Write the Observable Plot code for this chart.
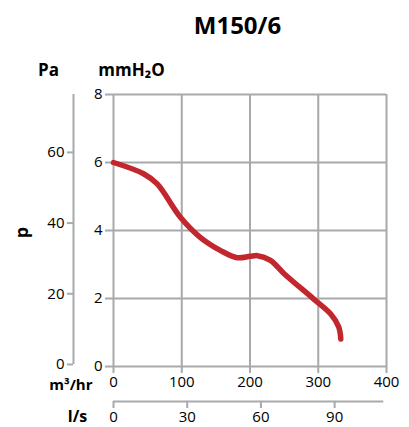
<!DOCTYPE html>
<html>
<head>
<meta charset="utf-8">
<script src="https://cdn.jsdelivr.net/npm/d3@7"></script>
<script src="https://cdn.jsdelivr.net/npm/@observablehq/plot@0.6"></script>
<style>
  html, body { margin: 0; padding: 0; background: #fff; }
  svg { display: block; }
</style>
</head>
<body>
<div id="chart"></div>
<script>
// Flow (m³/hr) and static pressure (mmH2O)
const flow = [0, 44, 64, 98, 127, 157, 181, 200, 211, 230, 250, 293, 318, 330, 333];
const pressure = [6.0, 5.67, 5.37, 4.39, 3.80, 3.41, 3.20, 3.24, 3.26, 3.12, 2.73, 1.99, 1.55, 1.16, 0.81];

const flowTicks = [0, 100, 200, 300, 400];       // m³/hr
const mmTicks = [0, 2, 4, 6, 8];                 // mmH2O
const paTicks = [0, 20, 40, 60];                 // Pa
const lsTicks = [0, 30, 60, 90];                 // l/s
const lsMax = 110;
const title = "M150/6";

const PA_PER_MM = 9.62;   // Pa scale as drawn
const PA_OFFSET = 0.06;   // mm offset of the Pa axis zero
const paToMm = p => p / PA_PER_MM + PA_OFFSET;
const LS_TO_M3H = 3.6;

const data = flow.map((f, i) => ({flow: f, p: pressure[i]}));

const grid = "#a7a9ac";
const red = "#c1272d";
const font = "Open Sans";

const lbl = {textAnchor: "middle", lineAnchor: "middle", fontWeight: "bold"};

const chart = Plot.plot({
  width: 409,
  height: 427,
  marginLeft: 113,
  marginRight: 23,
  marginTop: 94,
  marginBottom: 61,
  style: {fontFamily: font, fontSize: "14px", color: "black", background: "white", overflow: "visible"},
  x: {domain: [0, 400], axis: null},
  y: {domain: [0, 8], axis: null},
  marks: [
    Plot.ruleX(flowTicks, {stroke: grid, strokeWidth: 2}),
    Plot.ruleY(mmTicks, {stroke: grid, strokeWidth: 2}),
    // main y axis (mmH2O)
    Plot.axisY(mmTicks, {anchor: "left", label: null, tickSize: 8, tickPadding: 3, stroke: grid, strokeWidth: 2, fill: "black", fontSize: 15}),
    // main x axis (m³/hr)
    Plot.axisX(flowTicks, {anchor: "bottom", label: null, tickSize: 7, tickPadding: 3, stroke: grid, strokeWidth: 2, fill: "black", fontSize: 15}),
    // Pa axis
    Plot.ruleX([0], {y1: paToMm(0), y2: 8, dx: -40, stroke: grid, strokeWidth: 2}),
    Plot.axisY(paTicks.map(paToMm), {anchor: "left", label: null, dx: -40, tickSize: 6, tickPadding: 3, stroke: grid, strokeWidth: 2, fill: "black", fontSize: 15,
      tickFormat: d => Math.round((d - PA_OFFSET) * PA_PER_MM)}),
    // l/s axis
    Plot.ruleY([0], {x1: 0, x2: lsMax * LS_TO_M3H, dy: 35, stroke: grid, strokeWidth: 2}),
    Plot.axisX(lsTicks.map(l => l * LS_TO_M3H), {anchor: "bottom", label: null, dy: 35, tickSize: 7, tickPadding: 3, stroke: grid, strokeWidth: 2, fill: "black", fontSize: 15,
      tickFormat: d => Math.round(d / LS_TO_M3H)}),
    // curve
    Plot.line(data, {x: "flow", y: "p", curve: "catmull-rom", stroke: red, strokeWidth: 5.5, strokeLinecap: "round", strokeLinejoin: "round"}),
    // labels
    Plot.text([title], {...lbl, frameAnchor: "top-left", dx: 124, dy: -68, fontSize: 24}),
    Plot.text(["Pa"], {...lbl, frameAnchor: "top-left", dx: -65, dy: -24, fontSize: 17}),
    Plot.text(["mmH₂O"], {...lbl, frameAnchor: "top-left", dx: 18, dy: -24, fontSize: 17}),
    Plot.text(["p"], {...lbl, frameAnchor: "left", dx: -91, dy: 2, fontSize: 18, rotate: -90}),
    Plot.text(["m³/hr"], {...lbl, textAnchor: "end", frameAnchor: "bottom-left", dx: -21, dy: 19, fontSize: 15}),
    Plot.text(["l/s"], {...lbl, frameAnchor: "bottom-left", dx: -36, dy: 50, fontSize: 16})
  ]
});
document.getElementById("chart").appendChild(chart);
</script>
</body>
</html>
